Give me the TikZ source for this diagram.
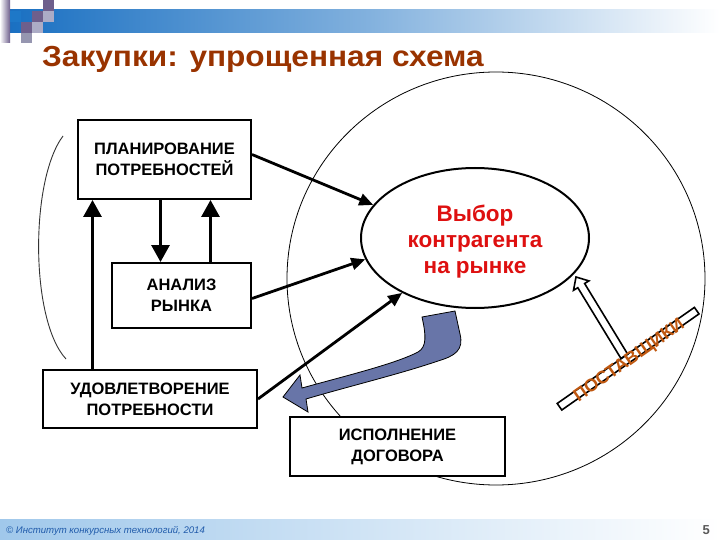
\documentclass[tikz,border=0pt]{standalone}
\usepackage{fontspec}
\setmainfont{Liberation Sans}
\usetikzlibrary{arrows.meta,shapes.geometric,calc}
\definecolor{titlec}{RGB}{153,51,0}
\definecolor{redt}{RGB}{222,16,16}
\definecolor{supc}{RGB}{192,88,16}
\definecolor{bentc}{RGB}{104,117,168}
\definecolor{bandblue}{RGB}{26,112,194}
\definecolor{footblue}{RGB}{160,200,235}
\definecolor{foottext}{RGB}{31,90,170}
\definecolor{sqpurple}{RGB}{110,95,140}
\definecolor{sqlight}{RGB}{172,172,198}
\definecolor{sqgray}{RGB}{150,150,176}
\definecolor{sqblue}{RGB}{30,120,200}
\tikzset{
  boxn/.style={draw, line width=2pt, fill=white, inner sep=0pt, align=center,
    font=\bfseries\fontsize{16.5}{21}\selectfont},
  arr/.style={line width=2.8pt, -{Triangle[length=14pt,width=12pt]}},
  varr/.style={line width=3pt, -{Triangle[length=17pt,width=18pt]}},
}
\begin{document}
\begin{tikzpicture}[x=1pt,y=-1pt]
\useasboundingbox (0,0) rectangle (720,540);
% header
\shade[left color=bandblue, right color=white, middle color=bandblue!55] (10,10) rectangle (720,33);
\shade[left color=white, right color=sqpurple] (0,0) rectangle (10,43);
\fill[sqblue] (10,11) rectangle (21,22);
\fill[sqpurple] (43,0) rectangle (54,11);
\fill[sqlight] (43,11) rectangle (54,22);
\fill[sqpurple] (32,11) rectangle (43,22);
\fill[sqpurple] (21,22) rectangle (32,33);
\fill[sqlight] (32,22) rectangle (43,33);
\fill[sqgray] (21,33) rectangle (32,43);
\node[anchor=base west, inner sep=0pt, text=titlec, font=\bfseries\fontsize{29}{30}\selectfont] (title) at (42,67) {\scalebox{1.09}[1]{Закупки: упрощенная схема}};
% footer
\shade[left color=footblue, right color=white] (0,519) rectangle (720,540);
\node[anchor=base west, inner sep=0pt, text=foottext, font=\itshape\fontsize{9.6}{12}\selectfont] (foot) at (6,533) {© Институт конкурсных технологий, 2014};
\node[anchor=base east, inner sep=0pt, text=black!65, font=\bfseries\fontsize{13}{14}\selectfont] (pg) at (710,534) {5};
% big circle
\draw[line width=0.8pt] (496,278.5) ellipse [x radius=209, y radius=206.5];
% left bracket
\draw[line width=0.9pt, black!80] (63,136) .. controls (30,180) and (30,320) .. (66,359);
% boxes
\node[boxn, minimum width=173pt, minimum height=79pt] (plan) at (164.5,159.5) {ПЛАНИРОВАНИЕ\\ПОТРЕБНОСТЕЙ};
\node[boxn, minimum width=139pt, minimum height=65pt] (anal) at (181.5,295.5) {АНАЛИЗ\\РЫНКА};
\node[boxn, minimum width=214pt, minimum height=58pt] (udov) at (150,399) {УДОВЛЕТВОРЕНИЕ\\ПОТРЕБНОСТИ};
\node[boxn, minimum width=215pt, minimum height=59pt] (isp) at (397.5,446.5) {ИСПОЛНЕНИЕ\\ДОГОВОРА};
\node[ellipse, draw, line width=2pt, fill=white, inner sep=0pt, minimum width=228pt, minimum height=140pt] (sel) at (475,238) {};
\node[text=redt, align=center, inner sep=0pt, font=\bfseries\fontsize{22.5}{26}\selectfont] (selt) at (475,242) {Выбор\\контрагента\\на рынке};
% vertical arrows
\coordinate (p1) at ([xshift=-4pt]plan.south);
\coordinate (p2) at ([xshift=46pt]plan.south);
\coordinate (p3) at ([xshift=-72pt]plan.south);
\draw[varr] (p1) -- (p1 |- anal.north);
\draw[varr] (p2 |- anal.north) -- (p2);
\draw[varr] (p3 |- udov.north) -- (p3);
% arrows to ellipse
\draw[arr] ([yshift=5pt]plan.east) -- (sel.162);
\draw[arr] ([yshift=-3pt]anal.east) -- (sel.191);
\draw[arr] (udov.east) -- (sel.217);
% bent arrow
\path[fill=bentc, draw=black, line width=0.8pt] (422,317) -- (455,311) -- (460,334)
  .. controls (464,350) and (455,356) .. (438,361)
  .. controls (400,374) and (350,386) .. (306,399) -- (308,412) -- (283,397) -- (300,375) -- (302,388)
  .. controls (345,376) and (395,364) .. (418,352)
  .. controls (427,347) and (426,335) .. (422,317) -- cycle;
% suppliers bar
\node[draw, line width=1.6pt, fill=white, inner sep=0pt, minimum width=167.5pt, minimum height=8pt, rotate=35] (bar) at (628.1,358.7) {};
\path[fill=white, draw=black, line width=1.6pt, line join=miter] (576,277) -- (588.9,280.9) -- (584.6,283.5) -- (627.7,354.2) -- (620.9,358.4) -- (577.8,287.7) -- (573.5,290.3) -- cycle;
\node[rotate=35, inner sep=0pt, text=supc, font=\bfseries\fontsize{18}{18}\selectfont] (sup) at (629.5,361) {ПОСТАВЩИКИ};
\end{tikzpicture}
\end{document}
